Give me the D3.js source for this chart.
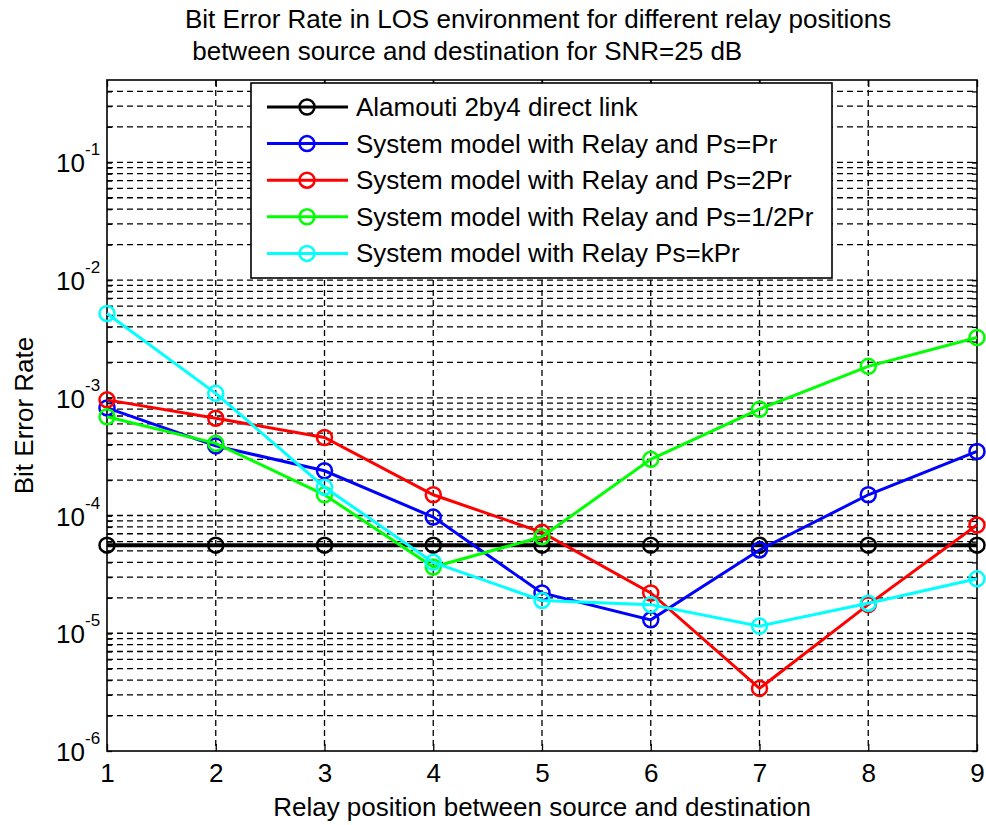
<!DOCTYPE html>
<html>
<head>
<meta charset="utf-8">
<script src="https://cdn.jsdelivr.net/npm/d3@7"></script>
<style>
  body { margin: 0; background: #fff; }
  text { font-family: "Liberation Sans", Arial, sans-serif; fill: #000; }
</style>
</head>
<body>
<div class="canvas"></div>
<script>
// relay positions
const positions = [1, 2, 3, 4, 5, 6, 7, 8, 9];

// BER values per series
const direct   = [5.6e-5, 5.6e-5, 5.6e-5, 5.6e-5, 5.6e-5, 5.6e-5, 5.6e-5, 5.6e-5, 5.6e-5];
const relayEq  = [8.2e-4, 3.9e-4, 2.4e-4, 9.7e-5, 2.2e-5, 1.3e-5, 5.1e-5, 1.5e-4, 3.5e-4];
const relay2   = [9.6e-4, 6.7e-4, 4.6e-4, 1.5e-4, 7.2e-5, 2.2e-5, 3.4e-6, 1.75e-5, 8.3e-5];
const relayHalf= [6.9e-4, 4.1e-4, 1.5e-4, 3.65e-5, 6.6e-5, 3.0e-4, 8.0e-4, 1.85e-3, 3.25e-3];
const relayK   = [5.2e-3, 1.09e-3, 1.74e-4, 4.0e-5, 1.9e-5, 1.75e-5, 1.15e-5, 1.8e-5, 2.9e-5];

const seriesNames = [
    'Alamouti 2by4 direct link',
    'System model with Relay and Ps=Pr',
    'System model with Relay and Ps=2Pr',
    'System model with Relay and Ps=1/2Pr',
    'System model with Relay Ps=kPr'
];
const seriesColors = ['#000000', '#0000ff', '#ff0000', '#00ff00', '#00ffff'];
const seriesValues = [direct, relayEq, relay2, relayHalf, relayK];

const yTickExps = [-6, -5, -4, -3, -2, -1];

const titleLines = [
    'Bit Error Rate in LOS environment for different relay positions',
    ' between source and destination for SNR=25 dB'
];

const svg = d3.select('.canvas')
    .append('svg')
    .attr('width', 986)
    .attr('height', 825);

const margin = {top: 80, right: 9, bottom: 74, left: 107};
const graphWidth = 986 - margin.left - margin.right;
const graphHeight = 825 - margin.top - margin.bottom;

const graph = svg.append('g')
    .attr('transform', `translate(${margin.left},${margin.top})`);

const x = d3.scaleLinear()
    .domain([1, 9])
    .range([0, graphWidth]);

const y = d3.scaleLog()
    .domain([1e-6, 0.5])
    .range([graphHeight, 0]);

// grid lines: log minor + major, plus x integer grid
const gridVals = [];
for (let e = -6; e <= -1; e++) {
    for (let m = 1; m <= 9; m++) {
        const v = m * Math.pow(10, e);
        if (v > 1e-6 && v < 0.5) gridVals.push(v);
    }
}

const gridG = graph.append('g');
gridG.selectAll('line.hgrid')
    .data(gridVals)
    .enter()
    .append('line')
    .attr('class', 'hgrid')
    .attr('x1', 0).attr('x2', graphWidth)
    .attr('y1', d => y(d)).attr('y2', d => y(d))
    .attr('stroke', '#000')
    .attr('stroke-width', 1.3)
    .attr('stroke-dasharray', '6,4');

gridG.selectAll('line.vgrid')
    .data(positions.slice(1, -1))
    .enter()
    .append('line')
    .attr('class', 'vgrid')
    .attr('x1', d => x(d)).attr('x2', d => x(d))
    .attr('y1', 0).attr('y2', graphHeight)
    .attr('stroke', '#000')
    .attr('stroke-width', 1.3)
    .attr('stroke-dasharray', '6,4');

// axes
const allYTicks = gridVals.concat(yTickExps.map(e => Math.pow(10, e)));
const xAxis = d3.axisBottom(x)
    .tickValues(positions)
    .tickSize(-7)
    .tickFormat(d3.format('d'));
const xAxisTop = d3.axisTop(x)
    .tickValues(positions)
    .tickSize(-7)
    .tickFormat('');
const yAxis = d3.axisLeft(y)
    .tickValues(allYTicks)
    .tickSize(-5)
    .tickFormat('');
const yAxisRight = d3.axisRight(y)
    .tickValues(allYTicks)
    .tickSize(-5)
    .tickFormat('');

const xAxisGroup = graph.append('g')
    .attr('transform', `translate(0,${graphHeight})`)
    .call(xAxis);
graph.append('g').call(xAxisTop);
graph.append('g').call(yAxis);
graph.append('g').attr('transform', `translate(${graphWidth},0)`).call(yAxisRight);

graph.selectAll('.domain').remove();
graph.selectAll('.tick line').attr('stroke', '#000').attr('stroke-width', 1.3);

xAxisGroup.selectAll('text')
    .attr('y', 31)
    .attr('dy', null)
    .style('font-size', '26px')
    .style('font-family', '"Liberation Sans", Arial, sans-serif')
    .attr('fill', '#000');

// y decade labels 10^k
const yLab = graph.append('g');
yTickExps.forEach(e => {
    yLab.append('text')
        .attr('x', -22)
        .attr('y', y(Math.pow(10, e)) + 10)
        .attr('text-anchor', 'end')
        .style('font-size', '26px')
        .text('10');
    yLab.append('text')
        .attr('x', -22)
        .attr('y', y(Math.pow(10, e)) - 7)
        .attr('text-anchor', 'start')
        .style('font-size', '17px')
        .text(e);
});

// box
graph.append('rect')
    .attr('x', 0).attr('y', 0)
    .attr('width', graphWidth).attr('height', graphHeight)
    .attr('fill', 'none')
    .attr('stroke', '#000')
    .attr('stroke-width', 1.6);

// series lines + markers
const line = d3.line()
    .x((d, i) => x(positions[i]))
    .y(d => y(d));

seriesValues.forEach((vals, s) => {
    graph.append('path')
        .datum(vals)
        .attr('d', line)
        .attr('fill', 'none')
        .attr('stroke', seriesColors[s])
        .attr('stroke-width', s === 0 ? 4 : 3);
    graph.selectAll(`circle.s${s}`)
        .data(vals)
        .enter()
        .append('circle')
        .attr('class', `s${s}`)
        .attr('cx', (d, i) => x(positions[i]))
        .attr('cy', d => y(d))
        .attr('r', 7.5)
        .attr('fill', 'none')
        .attr('stroke', seriesColors[s])
        .attr('stroke-width', 2.5);
});

// legend
const legend = graph.append('g')
    .attr('transform', `translate(${251 - margin.left},${83 - margin.top})`);
legend.append('rect')
    .attr('width', 581).attr('height', 195)
    .attr('fill', '#fff')
    .attr('stroke', '#000')
    .attr('stroke-width', 1.6);
seriesNames.forEach((name, i) => {
    const row = legend.append('g')
        .attr('transform', `translate(0,${24 + i * 36.6})`);
    row.append('line')
        .attr('x1', 16).attr('x2', 97)
        .attr('stroke', seriesColors[i])
        .attr('stroke-width', 3);
    row.append('circle')
        .attr('cx', 56).attr('r', 7.5)
        .attr('fill', 'none')
        .attr('stroke', seriesColors[i])
        .attr('stroke-width', 2.5);
    row.append('text')
        .attr('x', 105)
        .attr('y', 9)
        .style('font-size', '26px')
        .text(name);
});

// title
svg.selectAll('text.title')
    .data(titleLines)
    .enter()
    .append('text')
    .attr('class', 'title')
    .attr('x', 185)
    .attr('y', (d, i) => 28 + i * 32)
    .style('font-size', '26px')
    .style('white-space', 'pre')
    .text(d => d);

// axis labels
svg.append('text')
    .attr('x', margin.left + graphWidth / 2)
    .attr('y', 816)
    .attr('text-anchor', 'middle')
    .style('font-size', '26px')
    .text('Relay position between source and destination');

svg.append('text')
    .attr('transform', `translate(33,${margin.top + graphHeight / 2}) rotate(-90)`)
    .attr('text-anchor', 'middle')
    .style('font-size', '26px')
    .text('Bit Error Rate');
</script>
</body>
</html>
